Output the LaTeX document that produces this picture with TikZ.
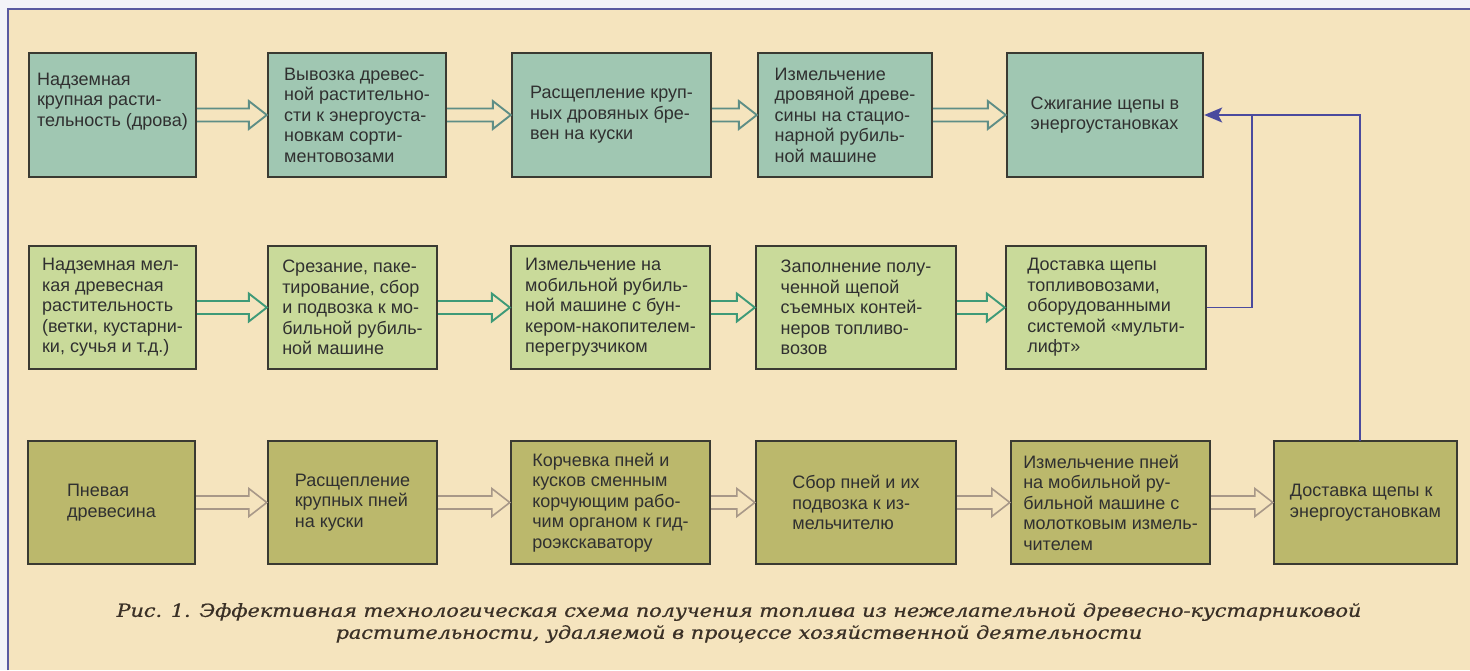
\documentclass[tikz,border=0pt]{standalone}
\usepackage{fontspec}
\setmainfont{Liberation Sans}
\newfontfamily\capfont{DejaVu Serif}[FakeBold=0.7]
\usetikzlibrary{arrows.meta}
\definecolor{cream}{HTML}{F5E4BE}
\definecolor{outside}{HTML}{F3F3F8}
\definecolor{framec}{HTML}{5A5AA0}
\definecolor{fillA}{HTML}{A0C7B2}
\definecolor{fillB}{HTML}{C9DA9A}
\definecolor{fillC}{HTML}{BBB86C}
\definecolor{edgec}{HTML}{3A3A32}
\definecolor{txtc}{HTML}{303030}
\definecolor{arrA}{HTML}{5E8E86}
\definecolor{arrB}{HTML}{3E9A78}
\definecolor{arrC}{HTML}{A89888}
\definecolor{bluec}{HTML}{4A4A9E}
\definecolor{capc}{HTML}{3A3026}
\newcommand\dblarr[3]{%
  \draw[#1] ([yshift=6.5pt]#2.east) -- ([xshift=-18pt,yshift=6.5pt]#3.west)
    -- ([xshift=-18pt,yshift=14pt]#3.west) -- (#3.west)
    -- ([xshift=-18pt,yshift=-14pt]#3.west) -- ([xshift=-18pt,yshift=-6.5pt]#3.west)
    -- ([yshift=-6.5pt]#2.east);}
\begin{document}
\begin{tikzpicture}[x=1pt,y=-1pt,
  boxA/.style={draw=edgec,line width=2.4pt,fill=fillA,minimum height=124pt,inner sep=0pt,
    text=txtc,align=left,font=\fontsize{18}{20.5}\selectfont},
  boxB/.style={boxA,fill=fillB,minimum height=123pt},
  boxC/.style={boxA,fill=fillC,minimum height=123pt},
  txt/.style={inner sep=0pt,text=txtc,align=left,font=\fontsize{18}{20.5}\selectfont},
  dbl/.style={line width=1.9pt,line join=miter},
  arrowA/.style={dbl,draw=arrA},
  arrowB/.style={dbl,draw=arrB},
  arrowC/.style={dbl,draw=arrC,line width=1.6pt},
  blueline/.style={draw=bluec,line width=1.6pt}
]
\useasboundingbox (0,0) rectangle (1470,670);
\fill[outside] (0,0) rectangle (1470,670);
\fill[cream] (8,9) rectangle (1470,670);
\draw[framec,line width=1.8pt] (8,670) -- (8,9) -- (1470,9);

% Row 1
\node[boxA,minimum width=167pt] (a1) at (112.5,115) {};
\node[txt] (a1t) at (112.5,101.5) {Надземная\\крупная расти-\\тельность (дрова)};
\node[boxA,minimum width=178pt] (a2) at (357,115) {Вывозка древес-\\ной растительно-\\сти к энергоуста-\\новкам сорти-\\ментовозами};
\node[boxA,minimum width=199pt] (a3) at (611.5,115) {Расщепление круп-\\ных дровяных бре-\\вен на куски};
\node[boxA,minimum width=174pt] (a4) at (845,115) {Измельчение\\дровяной древе-\\сины на стацио-\\нарной рубиль-\\ной машине};
\node[boxA,minimum width=196pt] (a5) at (1105,115) {Сжигание щепы в\\энергоустановках};

% Row 2
\node[boxB,minimum width=167pt] (b1) at (112.5,307.5) {Надземная мел-\\кая древесная\\растительность\\(ветки, кустарни-\\ки, сучья и т.д.)};
\node[boxB,minimum width=169pt] (b2) at (352.5,307.5) {Срезание, паке-\\тирование, сбор\\и подвозка к мо-\\бильной рубиль-\\ной машине};
\node[boxB,minimum width=199pt] (b3) at (610.5,307.5) {Измельчение на\\мобильной рубиль-\\ной машине с бун-\\кером-накопителем-\\перегрузчиком};
\node[boxB,minimum width=200pt] (b4) at (856,307.5) {Заполнение полу-\\ченной щепой\\съемных контей-\\неров топливо-\\возов};
\node[boxB,minimum width=200pt] (b5) at (1106,307.5) {Доставка щепы\\топливовозами,\\оборудованными\\системой «мульти-\\лифт»};

% Row 3
\node[boxC,minimum width=167pt] (c1) at (111.5,502.5) {Пневая\\древесина};
\node[boxC,minimum width=169pt] (c2) at (352.5,502.5) {Расщепление\\крупных пней\\на куски};
\node[boxC,minimum width=199pt] (c3) at (610.5,502.5) {Корчевка пней и\\кусков сменным\\корчующим рабо-\\чим органом к гид-\\роэкскаватору};
\node[boxC,minimum width=200pt] (c4) at (856,502.5) {Сбор пней и их\\подвозка к из-\\мельчителю};
\node[boxC,minimum width=199pt] (c5) at (1110.5,502.5) {Измельчение пней\\на мобильной ру-\\бильной машине с\\молотковым измель-\\чителем};
\node[boxC,minimum width=183pt] (c6) at (1365.5,502.5) {Доставка щепы к\\энергоустановкам};

% double arrows
\dblarr{arrowA}{a1}{a2}
\dblarr{arrowA}{a2}{a3}
\dblarr{arrowA}{a3}{a4}
\dblarr{arrowA}{a4}{a5}
\dblarr{arrowB}{b1}{b2}
\dblarr{arrowB}{b2}{b3}
\dblarr{arrowB}{b3}{b4}
\dblarr{arrowB}{b4}{b5}
\dblarr{arrowC}{c1}{c2}
\dblarr{arrowC}{c2}{c3}
\dblarr{arrowC}{c3}{c4}
\dblarr{arrowC}{c4}{c5}
\dblarr{arrowC}{c5}{c6}

% blue connectors
\coordinate (j) at (1252,115);
\coordinate (c6top) at (1360,441);
\draw[blueline] (b5.east) -| (j);
\draw[blueline,-{Stealth[length=18pt,width=15pt,inset=4pt]}] (c6top) |- (a5.east);

% caption
\node[inner sep=0pt,text=capc,align=center,xscale=1.15,transform shape,
  font=\capfont\itshape\fontsize{18}{22}\selectfont] (cap) at (739,623)
  {Рис. 1. Эффективная технологическая схема получения топлива из нежелательной древесно-кустарниковой\\растительности, удаляемой в процессе хозяйственной деятельности};
\end{tikzpicture}
\end{document}
